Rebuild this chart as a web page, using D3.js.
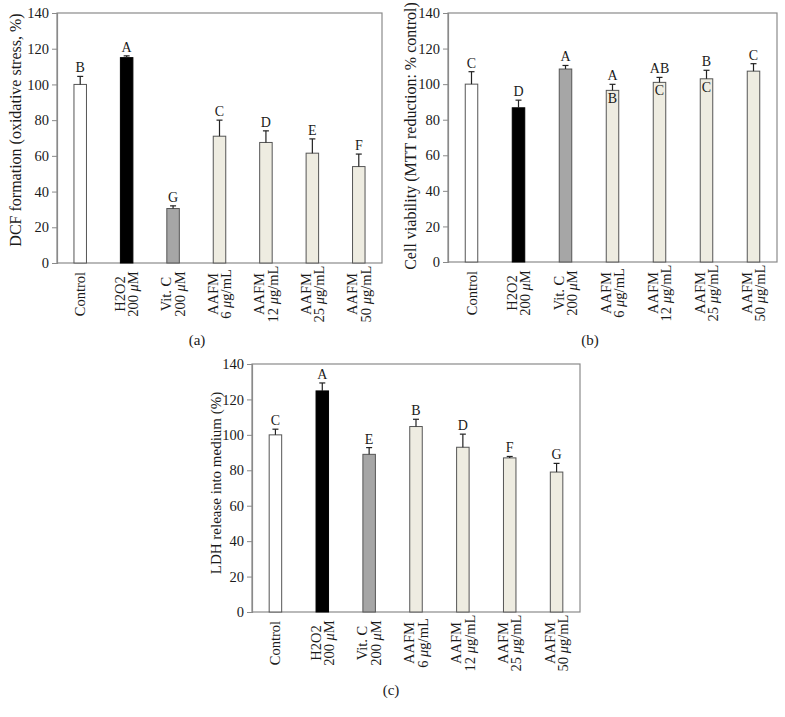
<!DOCTYPE html>
<html><head><meta charset="utf-8">
<script src="https://cdn.jsdelivr.net/npm/d3@7"></script>
<style>body{margin:0;background:#fff}svg{display:block}text{font-family:"Liberation Serif","Times New Roman",serif;fill:#1a1a1a}</style>
</head><body>
<svg id="chart" width="785" height="717"></svg>
<script>
// ---- data ----
const categories = [["Control"],["H2O2","200 μM"],["Vit. C","200 μM"],["AAFM","6 μg/mL"],["AAFM","12 μg/mL"],["AAFM","25 μg/mL"],["AAFM","50 μg/mL"]];
const fills = ["#ffffff","#000000","#a6a6a6","#eeece1","#eeece1","#eeece1","#eeece1"];
const yTicks = [0,20,40,60,80,100,120,140];

const dcfValues = [100, 115, 30.5, 71, 67.5, 61.5, 54];
const dcfErrors = [4.5, 1, 1.5, 9, 6.5, 8, 7];
const dcfLetters = ["B","A","G","C","D","E","F"];

const mttValues = [100, 86.7, 108.5, 96.5, 101, 103, 107.3];
const mttErrors = [7, 4.3, 2, 3.4, 2.8, 4.8, 4.2];
const mttLetters = ["C","D","A","A","AB","B","C"];
const mttInnerLetters = ["","","","B","C","C",""];

const ldhValues = [100, 124.8, 89, 104.7, 93, 87, 79];
const ldhErrors = [3.2, 4.5, 3.8, 4.1, 7.4, 0.8, 4.9];
const ldhLetters = ["C","A","E","B","D","F","G"];

const svg = d3.select("#chart");

function panel(opt){
  const {x0,y0,x1,y1,values,errors,letters,inner,ylabel,ylabelX,ylabelY,ylabelSize,caption,capX,capY} = opt;
  const g = svg.append("g");
  const x = d3.scaleBand().domain(d3.range(categories.length)).range([x0,x1]).padding(0);
  const y = d3.scaleLinear().domain([0,140]).range([y1,y0]);
  const bw = 12.5;
  g.append("rect").attr("x",x0).attr("y",y0).attr("width",x1-x0).attr("height",y1-y0)
    .attr("fill","none").attr("stroke","#8a8a8a").attr("stroke-width",1.2);
  const ax = g.append("g").attr("transform",`translate(${x0},0)`)
    .call(d3.axisLeft(y).tickValues(yTicks).tickSize(5).tickPadding(3));
  ax.select(".domain").attr("stroke","#8a8a8a").attr("stroke-width",1.2);
  ax.selectAll(".tick line").attr("stroke","#8a8a8a");
  ax.selectAll(".tick text").style("font-size","14.5px").attr("fill","#1a1a1a").style("font-family",'"Liberation Serif",serif');
  g.selectAll("rect.bar").data(values).join("rect").attr("class","bar")
    .attr("x",(d,i)=>x(i)+x.bandwidth()/2-bw/2).attr("width",bw)
    .attr("y",d=>y(d)).attr("height",d=>y(0)-y(d))
    .attr("fill",(d,i)=>fills[i]).attr("stroke",(d,i)=>i===1?"#000":"#555").attr("stroke-width",1);
  values.forEach((v,i)=>{
    const cx = x(i)+x.bandwidth()/2;
    g.append("line").attr("x1",cx).attr("x2",cx).attr("y1",y(v)).attr("y2",y(v+errors[i])).attr("stroke","#222").attr("stroke-width",1.2);
    g.append("line").attr("x1",cx-3).attr("x2",cx+3).attr("y1",y(v+errors[i])).attr("y2",y(v+errors[i])).attr("stroke","#222").attr("stroke-width",1.2);
    g.append("text").attr("x",cx).attr("y",y(v+errors[i])-4).attr("text-anchor","middle").style("font-size","14px").text(letters[i]);
    if(inner && inner[i]) g.append("text").attr("x",cx).attr("y",y(v)+13).attr("text-anchor","middle").style("font-size","14px").text(inner[i]);
  });
  categories.forEach((lines,i)=>{
    const cx = x(i)+x.bandwidth()/2;
    const n = lines.length;
    lines.forEach((ln,j)=>{
      const lx = cx + (j-(n-1)/2)*13.5 + 5;
      const t = g.append("text").attr("transform",`translate(${lx},${y1+31}) rotate(-90)`)
        .attr("text-anchor","middle").style("font-size","14.5px");
      const k = ln.indexOf("μ");
      if(k>=0){
        t.append("tspan").text(ln.slice(0,k));
        t.append("tspan").style("font-style","italic").text("μ");
        t.append("tspan").text(ln.slice(k+1));
      } else t.text(ln);
    });
  });
  g.append("text").attr("transform",`translate(${ylabelX},${ylabelY}) rotate(-90)`)
    .attr("text-anchor","middle").style("font-size",ylabelSize).text(ylabel);
  g.append("text").attr("x",capX).attr("y",capY).attr("text-anchor","middle").style("font-size","15px").text(caption);
}

panel({x0:57,y0:13,x1:382,y1:263,values:dcfValues,errors:dcfErrors,letters:dcfLetters,
  ylabel:"DCF formation (oxidative stress, %)",ylabelX:21,ylabelY:130,ylabelSize:"16px",caption:"(a)",capX:197,capY:345});
panel({x0:448,y0:13,x1:777,y1:262,values:mttValues,errors:mttErrors,letters:mttLetters,inner:mttInnerLetters,
  ylabel:"Cell viability (MTT reduction: % control)",ylabelX:416,ylabelY:136,ylabelSize:"16px",caption:"(b)",capX:590,capY:345});
panel({x0:252,y0:364,x1:580,y1:612,values:ldhValues,errors:ldhErrors,letters:ldhLetters,
  ylabel:"LDH release into medium (%)",ylabelX:221,ylabelY:483,ylabelSize:"15px",caption:"(c)",capX:391,capY:695});
</script>
</body></html>
